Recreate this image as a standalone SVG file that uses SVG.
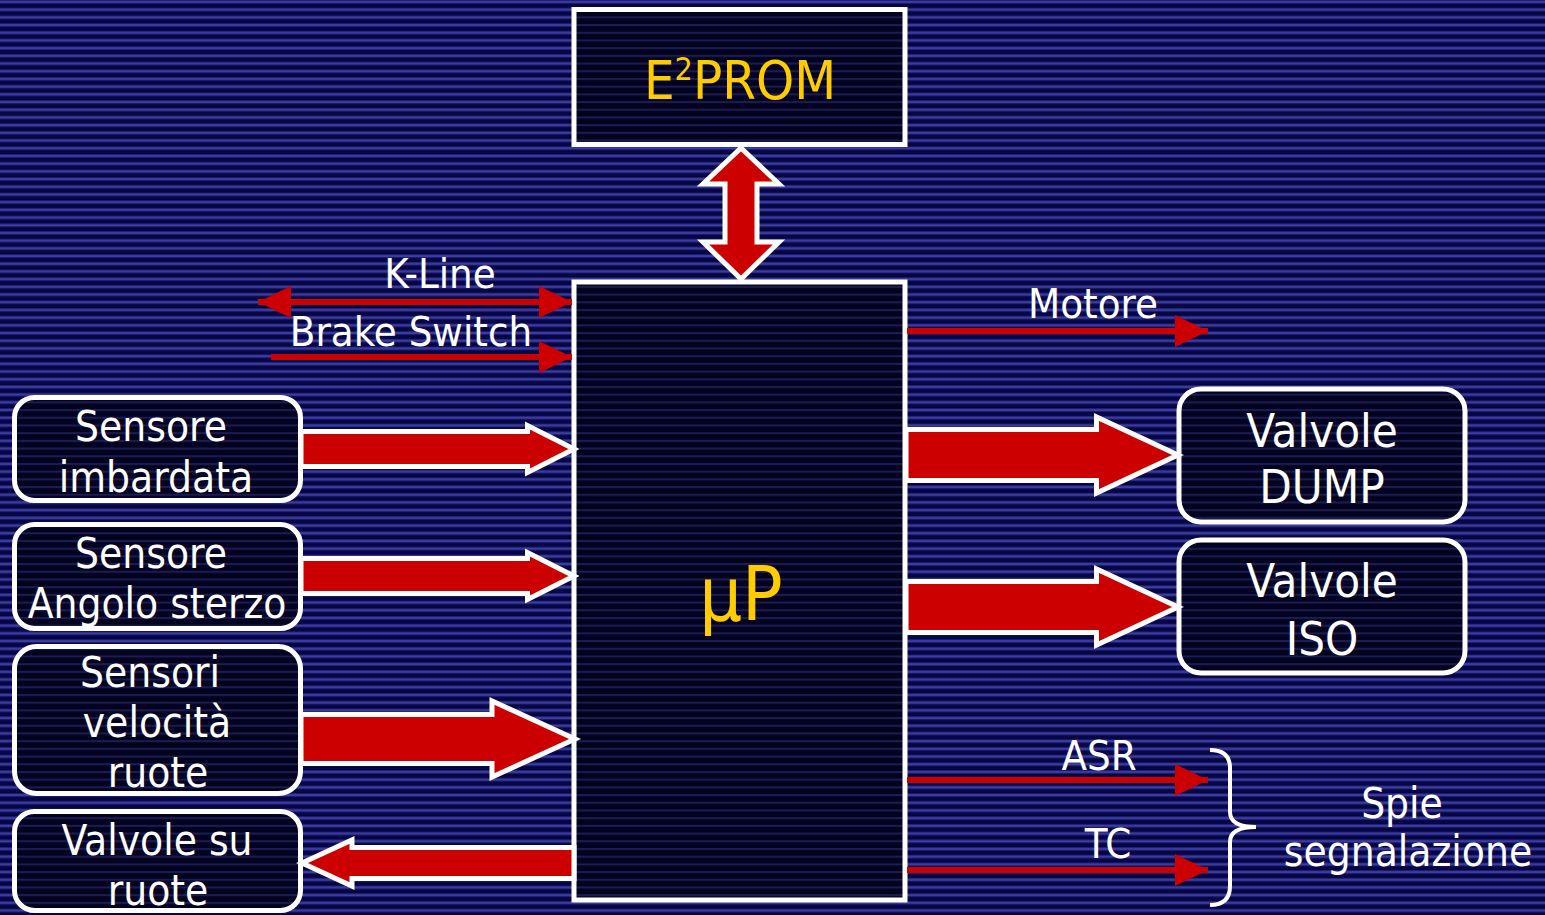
<svg xmlns="http://www.w3.org/2000/svg" width="1545" height="915" viewBox="0 0 1545 915">
<defs>
<pattern id="bg" patternUnits="userSpaceOnUse" width="20" height="7.7">
<rect width="20" height="7.7" fill="#03033c"/>
<rect y="0" width="20" height="1" fill="#1f1f74"/>
<rect y="1" width="20" height="2" fill="#3c3ca2"/>
<rect y="3" width="20" height="1" fill="#1f1f74"/>
<rect y="5.5" width="20" height="0.8" fill="#0a0a50"/>
</pattern>
<pattern id="inner" patternUnits="userSpaceOnUse" width="20" height="7.7">
<rect width="20" height="7.7" fill="#030320"/>
<rect y="1" width="20" height="2" fill="#1c1c52"/>
</pattern>
<marker id="head" markerUnits="userSpaceOnUse" markerWidth="34" markerHeight="34" refX="33" refY="16" orient="auto-start-reverse" viewBox="0 0 34 32">
<path d="M0,0 L33,16 L0,32 Z" fill="#cc0000"/>
</marker>
<style>
.box{fill:url(#inner);stroke:#ffffff;stroke-width:5}
.t{font-family:"DejaVu Sans Condensed","DejaVu Sans",sans-serif;fill:#ffffff;text-anchor:middle}
.y{font-family:"DejaVu Sans Condensed","DejaVu Sans",sans-serif;fill:#ffcc00;text-anchor:middle}
.big{fill:#cc0000;stroke:#ffffff;stroke-width:5;stroke-linejoin:miter}
.thin{stroke:#cc0000;stroke-width:6;fill:none}
</style>
</defs>
<rect width="1545" height="915" fill="url(#bg)"/>

<g id="eeprom">
<rect class="box" x="574" y="9.5" width="331" height="135"/>
<text class="y" x="740" y="99" font-size="54">E<tspan font-size="32" dy="-19">2</tspan><tspan dy="19">PROM</tspan></text>
</g>

<g id="up">
<rect class="box" x="574" y="282" width="331" height="618"/>
<text class="y" x="741" y="620" font-size="75">µP</text>
</g>

<g id="sensore-imbardata">
<rect class="box" x="14.5" y="397.5" width="286" height="103" rx="20"/>
<text class="t" x="151" y="441" font-size="42">Sensore</text>
<text class="t" x="156" y="492" font-size="42">imbardata</text>
</g>

<g id="sensore-angolo">
<rect class="box" x="14.5" y="524.5" width="286" height="104" rx="20"/>
<text class="t" x="151" y="568" font-size="42">Sensore</text>
<text class="t" x="157" y="618" font-size="42">Angolo sterzo</text>
</g>

<g id="sensori-velocita">
<rect class="box" x="14.5" y="646.5" width="286" height="147" rx="22"/>
<text class="t" x="150" y="687" font-size="42">Sensori</text>
<text class="t" x="157" y="737" font-size="42">velocità</text>
<text class="t" x="158" y="787" font-size="42">ruote</text>
</g>

<g id="valvole-ruote">
<rect class="box" x="14.5" y="811.5" width="286" height="99" rx="20"/>
<text class="t" x="157" y="855" font-size="42">Valvole su</text>
<text class="t" x="158" y="905" font-size="42">ruote</text>
</g>

<g id="valvole-dump">
<rect class="box" x="1179" y="389" width="286" height="133" rx="22"/>
<text class="t" x="1322" y="447" font-size="47">Valvole</text>
<text class="t" x="1322" y="503" font-size="47">DUMP</text>
</g>

<g id="valvole-iso">
<rect class="box" x="1179" y="540" width="286" height="133" rx="22"/>
<text class="t" x="1322" y="597" font-size="47">Valvole</text>
<text class="t" x="1322" y="655" font-size="47">ISO</text>
</g>

<g id="spie">
<path d="M1210,750 Q1230,750 1230,768 L1230,812 Q1230,827 1256,827 Q1230,827 1230,842 L1230,886 Q1230,905 1210,905" fill="none" stroke="#ffffff" stroke-width="4"/>
<text class="t" x="1402" y="818" font-size="42">Spie</text>
<text class="t" x="1408" y="866" font-size="42">segnalazione</text>
</g>

<g id="connectors">
<polygon class="big" points="741,148 779,184 757,184 757,242 779,242 741,279 703,242 725,242 725,184 703,184"/>
<polygon class="big" points="301,431.5 527.5,431.5 527.5,425.5 574,449 527.5,472.5 527.5,466.5 301,466.5"/>
<polygon class="big" points="301,558.5 527.5,558.5 527.5,552.5 574,576 527.5,599.5 527.5,593.5 301,593.5"/>
<polygon class="big" points="301,714.5 492,714.5 492,701 575,739 492,777 492,763.5 301,763.5"/>
<polygon class="big" points="574,847.5 352,847.5 352,840 302,863 352,886 352,878.5 574,878.5"/>
<polygon class="big" points="906,429.5 1096.5,429.5 1096.5,417 1178,455 1096.5,493 1096.5,480.5 906,480.5"/>
<polygon class="big" points="906,581.5 1096.5,581.5 1096.5,569 1178,607 1096.5,645 1096.5,632.5 906,632.5"/>
<line class="thin" x1="258" y1="302" x2="572" y2="302" marker-start="url(#head)" marker-end="url(#head)"/>
<line class="thin" x1="271" y1="357" x2="572" y2="357" marker-end="url(#head)"/>
<line class="thin" x1="907" y1="331" x2="1208" y2="331" marker-end="url(#head)"/>
<line class="thin" x1="907" y1="780" x2="1208" y2="780" marker-end="url(#head)"/>
<line class="thin" x1="907" y1="870" x2="1208" y2="870" marker-end="url(#head)"/>
<text class="t" x="440" y="288" font-size="41.5">K-Line</text>
<text class="t" x="411" y="346" font-size="41.5">Brake Switch</text>
<text class="t" x="1093" y="318" font-size="41.5">Motore</text>
<text class="t" x="1099" y="770" font-size="41.5">ASR</text>
<text class="t" x="1108" y="858" font-size="41.5">TC</text>
</g>
</svg>
